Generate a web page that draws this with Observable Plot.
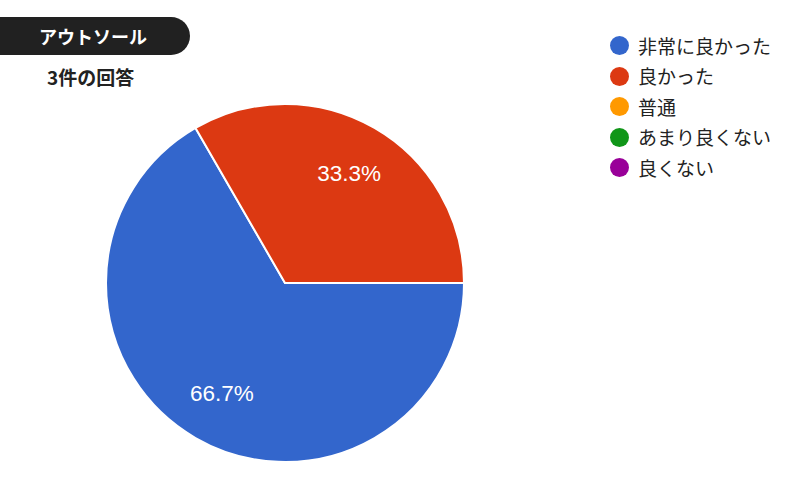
<!DOCTYPE html>
<html>
<head>
<meta charset="utf-8">
<script src="https://cdn.jsdelivr.net/npm/d3@7"></script>
<script src="https://cdn.jsdelivr.net/npm/@observablehq/plot@0.6"></script>
<style>
  html, body { margin: 0; padding: 0; background: #fff; }
  #wrap { position: relative; width: 800px; height: 500px; overflow: hidden; font-family: "Noto Sans CJK JP", "Noto Sans", sans-serif; }
  #chart { position: absolute; left: 0; top: 0; }
  #badge { position: absolute; left: 0; top: 17px; width: 190px; height: 38px; background: #212121; border-radius: 0 19px 19px 0; color: #fff; font-weight: 700; font-size: 18px; line-height: 38px; box-sizing: border-box; padding-left: 39px; }
  #sub { position: absolute; left: 47px; top: 63px; font-weight: 700; font-size: 19px; color: #222; line-height: 28px; }
  #legend { position: absolute; left: 610px; top: 0; }
  .item { position: absolute; left: 0; display: flex; align-items: center; height: 30px; white-space: nowrap; }
  .sw { width: 19px; height: 19px; border-radius: 50%; margin-right: 9px; flex: none; }
  .lab { font-size: 19px; color: #222; line-height: 22px; }
</style>
</head>
<body>
<div id="wrap">
  <div id="chart"></div>
  <div id="badge">アウトソール</div>
  <div id="sub">3件の回答</div>
  <div id="legend"></div>
</div>
<script>
// Data
const categories = ["非常に良かった", "良かった", "普通", "あまり良くない", "良くない"];
const counts = [2, 1, 0, 0, 0];
const colors = ["#3366cc", "#dc3912", "#ff9900", "#109618", "#990099"];

const data = categories.map((c, i) => ({category: c, count: counts[i]}));
const total = d3.sum(counts);
const pie = d3.pie().value(d => d.count).sort(null)
  .startAngle(Math.PI / 2).endAngle(Math.PI / 2 + 2 * Math.PI);
const arcs = pie(data).filter(a => a.data.count > 0);
const labelArc = d3.arc().innerRadius(0.71).outerRadius(0.71);
const labels = arcs.map(a => {
  const [cx, cy] = labelArc.centroid(a);
  return {x: cx, y: cy, text: (a.data.count / total * 100).toFixed(1) + "%"};
});

function pieMark(...args) {
  const scales = args.find(a => a && !Array.isArray(a) && typeof a === "object" && typeof a.x === "function" && typeof a.y === "function");
  const color = scales.color || d3.scaleOrdinal(categories, colors);
  const cx = scales.x(0), cy = scales.y(0);
  const r = Math.abs(scales.x(1) - scales.x(0));
  const arc = d3.arc().innerRadius(0).outerRadius(r);
  const g = d3.create("svg:g").attr("transform", `translate(${cx},${cy})`);
  g.selectAll("path").data(arcs).join("path")
    .attr("d", arc)
    .attr("fill", d => color(d.data.category))
    .attr("stroke", "#fff")
    .attr("stroke-width", 2)
    .attr("stroke-linejoin", "round");
  return g.node();
}

const plot = Plot.plot({
  width: 800,
  height: 500,
  margin: 0,
  x: {domain: [-1, 1], range: [106, 464], axis: null},
  y: {domain: [-1, 1], range: [104, 462], axis: null},
  color: {domain: categories, range: colors},
  style: {background: "transparent"},
  marks: [
    pieMark,
    Plot.text(labels, {x: "x", y: "y", text: "text", fill: "#fff", fontSize: 22.5, fontFamily: "Arial, 'Liberation Sans', sans-serif"})
  ]
});
document.getElementById("chart").appendChild(plot);

const legend = d3.select("#legend");
categories.forEach((c, i) => {
  const it = legend.append("div").attr("class", "item").style("top", (30.7 + i * 30.5) + "px");
  it.append("div").attr("class", "sw").style("background", colors[i]);
  it.append("div").attr("class", "lab").text(c);
});
</script>
</body>
</html>
